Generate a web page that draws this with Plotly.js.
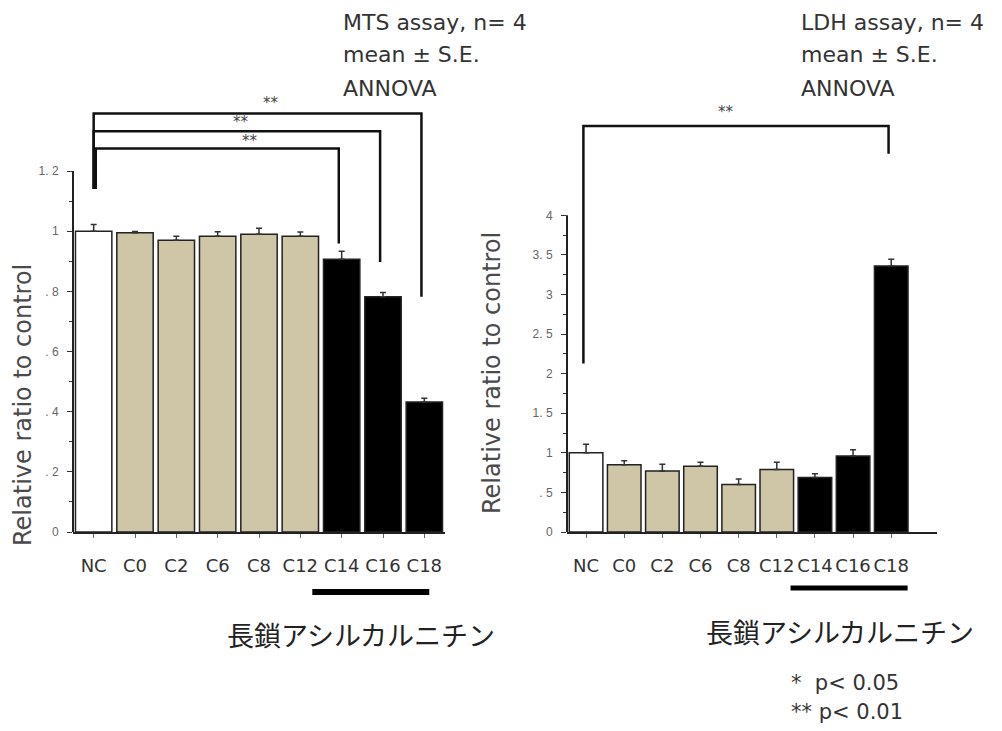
<!DOCTYPE html>
<html>
<head>
<meta charset="utf-8">
<script src="https://cdn.plot.ly/plotly-3.0.1.min.js"></script>
<style>
  html, body { margin: 0; padding: 0; background: #fff; }
  #chart { width: 1002px; height: 731px; }
</style>
</head>
<body>
<div id="chart"></div>
<script>
// Cell viability (MTS) and cytotoxicity (LDH) for acylcarnitines of different chain length
const categories = ['NC', 'C0', 'C2', 'C6', 'C8', 'C12', 'C14', 'C16', 'C18'];
const groupOf    = ['control', 'short', 'short', 'short', 'short', 'short', 'long', 'long', 'long'];

const mtsMean = [1.000, 0.995, 0.970, 0.983, 0.990, 0.983, 0.907, 0.782, 0.432];
const mtsSE   = [0.022, 0.004, 0.013, 0.015, 0.020, 0.014, 0.026, 0.014, 0.013];

const ldhMean = [1.00, 0.85, 0.77, 0.83, 0.60, 0.79, 0.69, 0.96, 3.36];
const ldhSE   = [0.11, 0.05, 0.085, 0.05, 0.07, 0.09, 0.045, 0.08, 0.085];

const mtsTickVals = [0, 0.2, 0.4, 0.6, 0.8, 1, 1.2];
const mtsTickText = ['0', '. 2', '. 4', '. 6', '. 8', '1', '1. 2'];
const ldhTickVals = [0, 0.5, 1, 1.5, 2, 2.5, 3, 3.5, 4];
const ldhTickText = ['0', '. 5', '1', '1. 5', '2', '2. 5', '3', '3. 5', '4'];

// significance comparisons: [from, to, label]
const mtsPairs = [['NC', 'C18', '**'], ['NC', 'C16', '**'], ['NC', 'C14', '**']];
const ldhPairs = [['NC', 'C18', '**']];

const mtsNotes = ['MTS assay, n= 4', 'mean ± S.E.', 'ANNOVA'];
const ldhNotes = ['LDH assay, n= 4', 'mean ± S.E.', 'ANNOVA'];
const groupLabel = '長鎖アシルカルニチン';
const pLegend = ['*\u00a0\u00a0p< 0.05', '** p< 0.01'];
const yTitle = 'Relative ratio to control';

// ---- styling ----
const fillFor = { control: '#ffffff', short: '#cec6a6', long: '#000000' };
const barColors = groupOf.map(g => fillFor[g]);
const FONT = '"DejaVu Sans", sans-serif';
const W = 1002, H = 731;
const px = v => v / W;
const py = v => (H - v) / H;

const mtsTop = 1.45, ldhTop = 5.51;
const yDomain = [py(532), py(532 - mtsTop * 300.8)];

function barTrace(y, se, xa, ya) {
  return {
    type: 'bar', x: categories, y: y, xaxis: xa, yaxis: ya,
    marker: { color: barColors, line: { color: '#222', width: 1.5 } },
    error_y: { type: 'data', symmetric: false, array: se, arrayminus: se.map(() => 0),
               color: '#333', thickness: 1.5, width: 3 },
    hoverinfo: 'x+y'
  };
}

function xAxis(domain, range) {
  return {
    domain: domain, range: range, type: 'category',
    showline: true, linecolor: '#222', linewidth: 2,
    ticks: 'outside', ticklen: 4, tickcolor: '#666', tickwidth: 1,
    ticklabelstandoff: 12,
    tickfont: { family: FONT, size: 18, color: '#333' },
    showgrid: false, zeroline: false, fixedrange: true
  };
}

function yAxis(anchor, range, vals, text, minorVals) {
  return {
    anchor: anchor, domain: yDomain, range: range,
    showline: false, showgrid: false, zeroline: false,
    tickmode: 'array', tickvals: vals, ticktext: text,
    ticks: 'outside', ticklen: 5, tickcolor: '#333', tickwidth: 1,
    ticklabelstandoff: 6,
    tickfont: { family: '"Liberation Sans Narrow", "Liberation Sans", sans-serif', size: 12, color: '#666' },
    minor: { tickmode: 'array', tickvals: minorVals, ticks: 'outside', ticklen: 3, tickcolor: '#333', tickwidth: 1 },
    fixedrange: true
  };
}

const mtsMinor = [0.1, 0.3, 0.5, 0.7, 0.9, 1.1];
const ldhMinor = [0.25, 0.75, 1.25, 1.75, 2.25, 2.75, 3.25, 3.75];

const shapes = [];
const annotations = [];

function note(x, y, text, font, extra) {
  annotations.push(Object.assign({ xref: 'paper', yref: 'paper', x: px(x), y: py(y),
    xanchor: 'center', yanchor: 'middle', text: text, showarrow: false, font: font }, extra || {}));
}

// y axis lines stop at the last labelled tick
shapes.push({ type: 'line', xref: 'x domain', yref: 'y', x0: 0, x1: 0, y0: 0, y1: 1.2,
              line: { color: '#222', width: 2 } });
shapes.push({ type: 'line', xref: 'x2 domain', yref: 'y2', x0: 0, x1: 0, y0: 0, y1: 4,
              line: { color: '#222', width: 2 } });

// significance brackets
function bracket(xa, ya, pair, yTop, yLeftEnd, yRightEnd, labX, labY, leftShift) {
  const i0 = categories.indexOf(pair[0]) + (leftShift || 0);
  const i1 = categories.indexOf(pair[1]) - 0.07;
  const path = `M ${i0} ${yLeftEnd} L ${i0} ${yTop} L ${i1} ${yTop} L ${i1} ${yRightEnd}`;
  shapes.push({ type: 'path', xref: xa, yref: ya, path: path,
                line: { color: '#111', width: 2.5 } });
  annotations.push({ xref: xa, yref: ya, x: labX, y: labY, xanchor: 'center', yanchor: 'middle',
                     text: pair[2], showarrow: false,
                     font: { family: FONT, size: 15, color: '#444' } });
}
// MTS: outermost to innermost
const mtsLevels = [
  { top: 1.391, left: 1.14, right: 0.782, lx: 4.3, ly: 1.425, shift: 0 },
  { top: 1.332, left: 1.14, right: 0.898, lx: 3.57, ly: 1.362, shift: 0 },
  { top: 1.275, left: 1.14, right: 0.959, lx: 3.79, ly: 1.300, shift: 0.05 }
];
mtsPairs.forEach((p, k) => {
  const L = mtsLevels[k];
  bracket('x', 'y', p, L.top, L.left, L.right, L.lx, L.ly, L.shift);
});
ldhPairs.forEach(p => bracket('x2', 'y2', p, 5.13, 2.13, 4.78, 3.68, 5.31, -0.07));

// long-chain group bars under the category labels
shapes.push({ type: 'line', xref: 'x', yref: 'paper', x0: 5.29, x1: 8.12, y0: py(592), y1: py(592),
              line: { color: '#000', width: 6 } });
shapes.push({ type: 'line', xref: 'x2', yref: 'paper', x0: 5.36, x1: 8.43, y0: py(588), y1: py(588),
              line: { color: '#000', width: 5 } });

// group labels
const jpFont = { family: '"Noto Sans CJK JP", sans-serif', size: 27, color: '#222' };
note(361, 634, groupLabel, jpFont);
note(840, 631, groupLabel, jpFont);

// assay notes
const noteFont = { family: FONT, size: 22, color: '#333' };
mtsNotes.forEach((t, k) => note(341, 22 + 33 * k, t, noteFont, { xanchor: 'left' }));
ldhNotes.forEach((t, k) => note(799, 22 + 33 * k, t, noteFont, { xanchor: 'left' }));

// p-value legend
pLegend.forEach((t, k) => note(789, 683 + 29 * k, t, { family: FONT, size: 21, color: '#333' }, { xanchor: 'left' }));

// y axis titles
const titleFont = { family: FONT, size: 24, color: '#4a4a4a' };
note(23, 405, yTitle, titleFont, { textangle: -90 });
note(492, 373, yTitle, titleFont, { textangle: -90 });

const layout = {
  width: W, height: H,
  margin: { l: 0, r: 0, t: 0, b: 0 },
  paper_bgcolor: '#fff', plot_bgcolor: 'rgba(0,0,0,0)',
  showlegend: false,
  bargap: 0.12,
  xaxis: xAxis([px(73), px(445)], [-0.5, 8.5]),
  yaxis: yAxis('x', [0, mtsTop], mtsTickVals, mtsTickText, mtsMinor),
  xaxis2: Object.assign(xAxis([px(567), px(937)], [-0.5, 9.2]), { anchor: 'y2' }),
  yaxis2: yAxis('x2', [0, ldhTop], ldhTickVals, ldhTickText, ldhMinor),
  shapes: shapes,
  annotations: annotations
};
layout.xaxis.anchor = 'y';

Plotly.newPlot('chart', [
  barTrace(mtsMean, mtsSE, 'x', 'y'),
  barTrace(ldhMean, ldhSE, 'x2', 'y2')
], layout, { displayModeBar: false, staticPlot: true });
</script>
</body>
</html>
